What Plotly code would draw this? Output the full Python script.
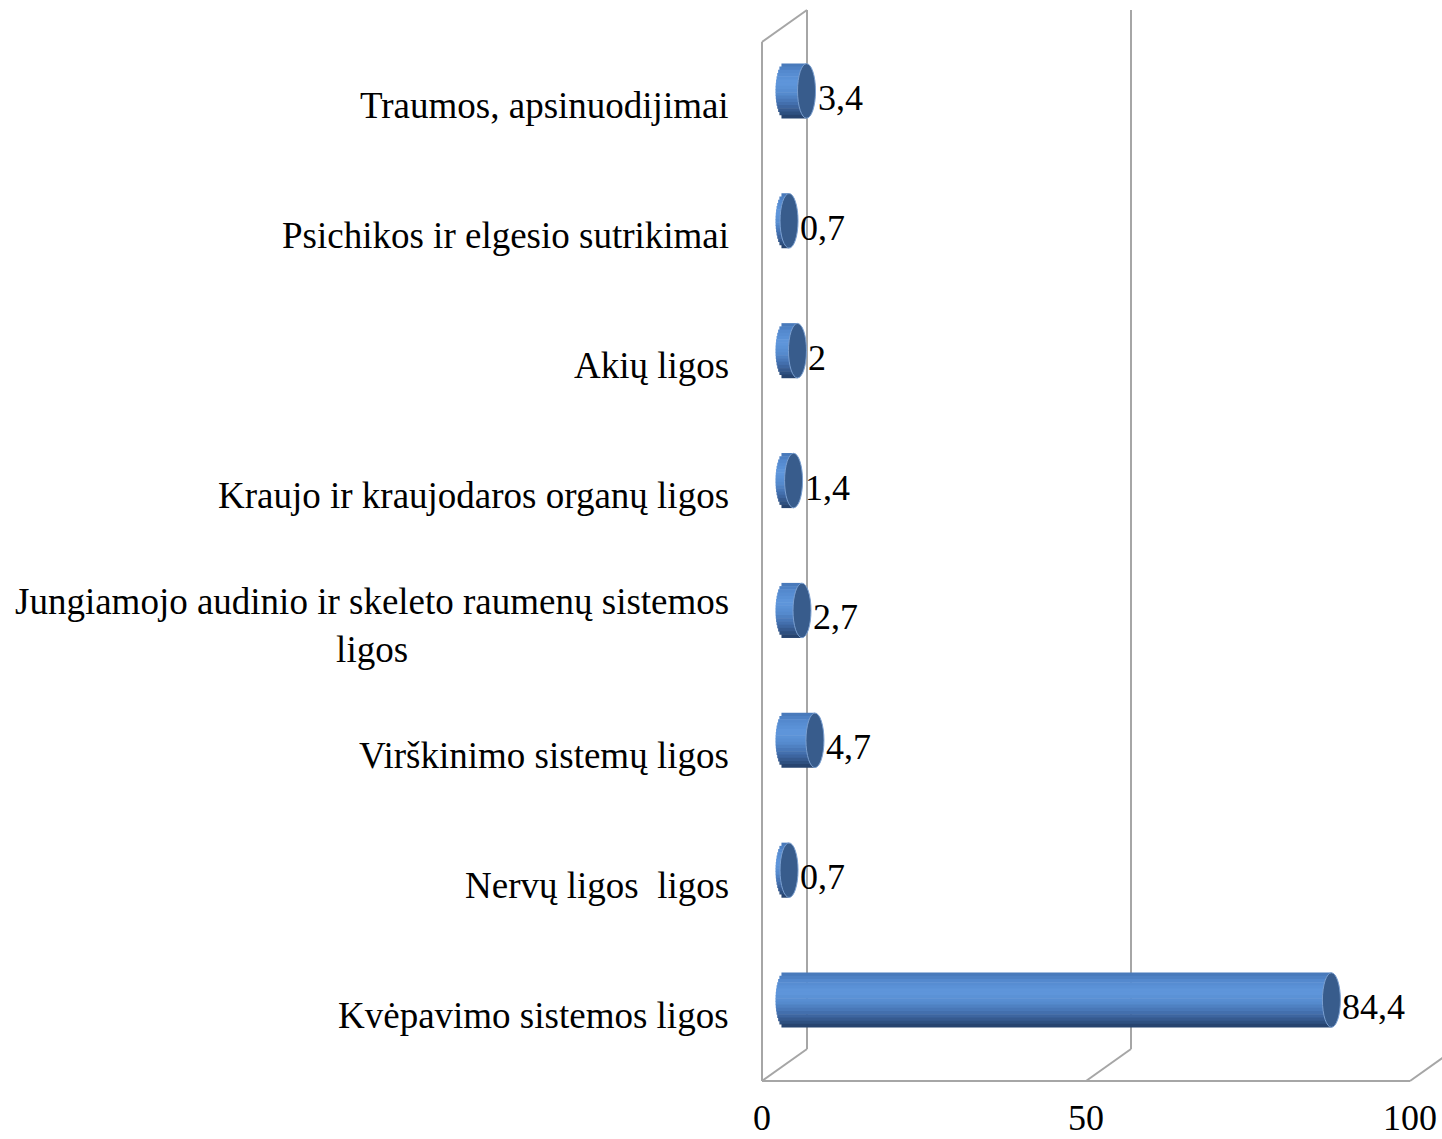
import math
import plotly.graph_objects as go

# ---- data (bottom to top) ----
categories = [
    "Kvėpavimo sistemos ligos",
    "Nervų ligos  ligos",
    "Virškinimo sistemų ligos",
    "Jungiamojo audinio ir skeleto raumenų sistemos<br>ligos",
    "Kraujo ir kraujodaros organų ligos",
    "Akių ligos",
    "Psichikos ir elgesio sutrikimai",
    "Traumos, apsinuodijimai",
]
values = [84.4, 0.7, 4.7, 2.7, 1.4, 2, 0.7, 3.4]
value_labels = ["84,4", "0,7", "4,7", "2,7", "1,4", "2", "0,7", "3,4"]
x_ticks = [0, 50, 100]
x_tick_labels = ["0", "50", "100"]

W, H = 1442, 1139
FONT = "Liberation Serif"
GRID = "#a6a6a6"

# geometry (pixels)
PX_PER_UNIT = 6.48
FRONT0 = 762.0       # front plane x of value 0
BACK_DX, BACK_DY = 45.0, -32.0
FLOOR_FRONT = 1081.0
TOP_FRONT = 42.0
XMIN = -4.0          # bar axis starts a bit below 0 so rounded ends show

def fx(v):
    return FRONT0 + v * PX_PER_UNIT

def px(xp):
    return xp / W

def py(yp):
    return (H - yp) / H

idx = list(range(len(categories)))
h = 0.42                      # bar thickness in category units
A = 9.0 / PX_PER_UNIT         # cap half-width in value units

stops = [
    (0.00, (70, 118, 182)),
    (0.15, (84, 137, 206)),
    (0.35, (95, 151, 220)),
    (0.55, (86, 139, 207)),
    (0.75, (66, 109, 170)),
    (0.90, (48, 82, 131)),
    (1.00, (35, 62, 102)),
]

def grad(f):
    for (f0, c0), (f1, c1) in zip(stops[:-1], stops[1:]):
        if f0 <= f <= f1:
            t = (f - f0) / (f1 - f0)
            c = [round(a + (b - a) * t) for a, b in zip(c0, c1)]
            return "rgb(%d,%d,%d)" % tuple(c)
    return "rgb(35,62,102)"

fig = go.Figure()

n = 17
bw = h / n
for k in range(n):
    f = (k + 0.5) / n
    t = (h / 2 - (k + 0.5) * bw) / (h / 2)
    base = -A * math.sqrt(max(0.0, 1 - t * t))
    fig.add_trace(go.Bar(
        x=[v - base for v in values],
        y=idx,
        base=[base] * len(values),
        orientation="h",
        width=bw + 0.004,
        offset=h / 2 - (k + 1) * bw - 0.002,
        marker=dict(color=grad(f), line=dict(width=0)),
        hoverinfo="skip",
        showlegend=False,
    ))

# invisible trace to carry the front axis
fig.add_trace(go.Scatter(x=[0, 100], y=[-10, -10], xaxis="x2", yaxis="y",
                         mode="markers", marker=dict(opacity=0),
                         hoverinfo="skip", showlegend=False))

shapes = []
# end caps
for i, v in zip(idx, values):
    shapes.append(dict(type="circle", xref="x", yref="y",
                       x0=v - A, x1=v + A, y0=i - h / 2, y1=i + h / 2,
                       fillcolor="#385c8c", line=dict(color="#7a9fd0", width=1),
                       layer="above"))

# 3D frame
def line(x0, y0, x1, y1):
    shapes.append(dict(type="line", xref="paper", yref="paper",
                       x0=px(x0), y0=py(y0), x1=px(x1), y1=py(y1),
                       line=dict(color=GRID, width=2), layer="below"))

floor_back = FLOOR_FRONT + BACK_DY
top_back = TOP_FRONT + BACK_DY
line(fx(0), TOP_FRONT, fx(0), FLOOR_FRONT)
line(fx(0), TOP_FRONT, fx(0) + BACK_DX, top_back)
for v in x_ticks:
    line(fx(v), FLOOR_FRONT, fx(v) + BACK_DX, floor_back)
for v in x_ticks[:-1]:
    line(fx(v) + BACK_DX, top_back, fx(v) + BACK_DX, floor_back)

annotations = []
for i, c in zip(idx, categories):
    annotations.append(dict(x=px(731), xref="paper", y=i, yref="y",
                            text=c, showarrow=False, xanchor="right",
                            yanchor="middle", align="center", yshift=-15,
                            font=dict(family=FONT, size=37, color="black")))
for i, v, lab in zip(idx, values, value_labels):
    annotations.append(dict(x=v, xref="x", y=i, yref="y", text=lab,
                            showarrow=False, xanchor="left", yanchor="middle",
                            xshift=9, yshift=-7,
                            font=dict(family=FONT, size=36, color="black")))

bar0 = FRONT0 + BACK_DX / 2
fig.update_layout(
    width=W, height=H, autosize=False,
    margin=dict(l=0, r=0, t=0, b=0, pad=0, autoexpand=False),
    paper_bgcolor="white", plot_bgcolor="rgba(0,0,0,0)",
    barmode="overlay",
    xaxis=dict(domain=[px(bar0 + XMIN * PX_PER_UNIT), px(bar0 + 100 * PX_PER_UNIT)],
               range=[XMIN, 100], visible=False, fixedrange=True,
               automargin=False),
    yaxis=dict(domain=[py(FLOOR_FRONT + BACK_DY / 2), py(TOP_FRONT + BACK_DY / 2)],
               range=[-0.5, len(categories) - 0.5], visible=False,
               automargin=False),
    xaxis2=dict(domain=[px(fx(0)), px(fx(100))], range=[0, 100],
                anchor="free", position=py(FLOOR_FRONT),
                tickvals=x_ticks, ticktext=x_tick_labels,
                showline=True, linecolor=GRID, linewidth=2,
                ticks="outside", ticklen=5, tickcolor="rgba(0,0,0,0)",
                showgrid=False, zeroline=False, automargin=False,
                ticklabeloverflow="allow", fixedrange=True,
                tickfont=dict(family=FONT, size=36, color="black")),
    shapes=shapes,
    annotations=annotations,
)

fig.write_html("out.html",
               config={"displayModeBar": False},
               post_script="document.body.style.margin='0px';"
                           "document.body.style.overflow='hidden';")
